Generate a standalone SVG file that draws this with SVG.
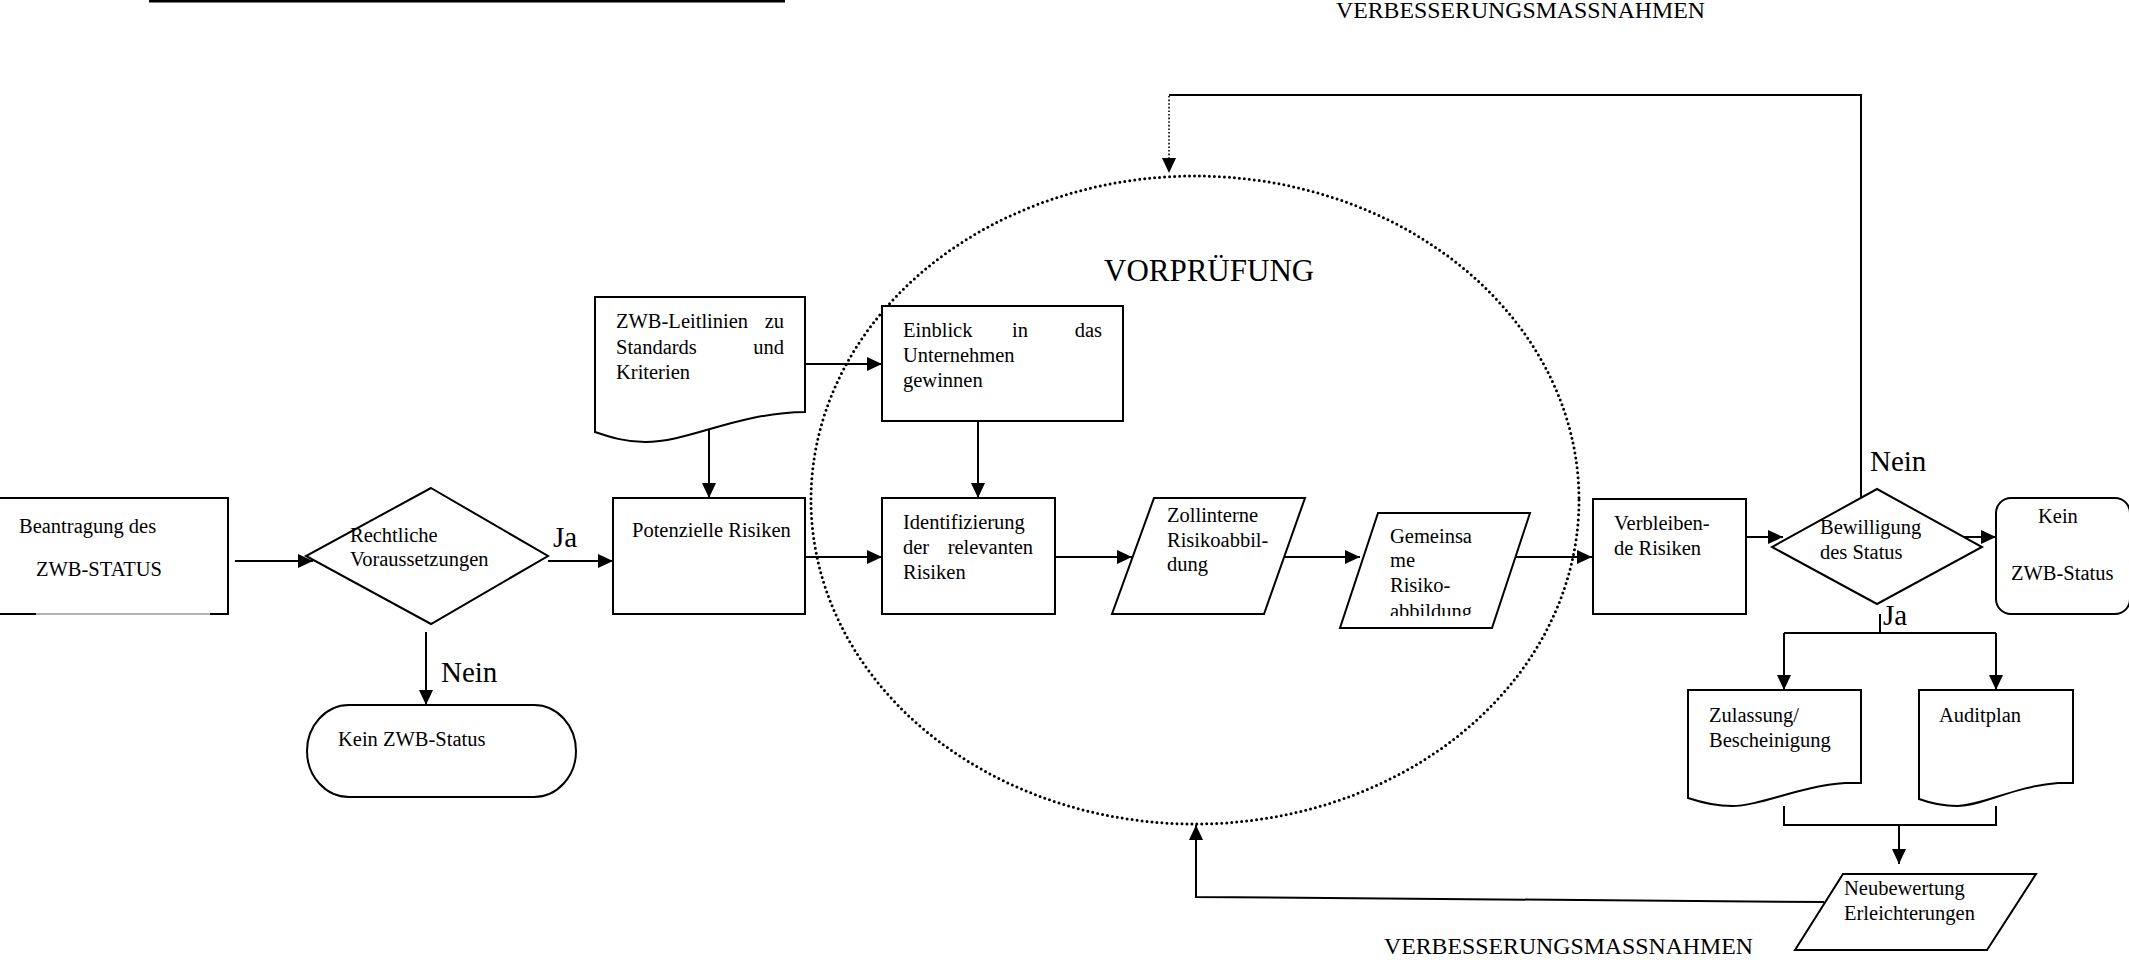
<svg xmlns="http://www.w3.org/2000/svg" width="2129" height="960" viewBox="0 0 2129 960">
<style>
.s{fill:none;stroke:#000;stroke-width:2}
.n{fill:#fff;stroke:#000;stroke-width:2}
.a{fill:none;stroke:#000;stroke-width:2;marker-end:url(#ah)}
text{font-family:"Liberation Serif","Times New Roman",serif;font-size:20.5px;fill:#000}
.lab{font-size:29px}
.big{font-size:31px}
.vm{font-size:23.8px}
</style>
<defs>
<marker id="ah" markerWidth="16" markerHeight="14" refX="15" refY="7" orient="auto" markerUnits="userSpaceOnUse"><path d="M0,0 L15,7 L0,14 z" fill="#000"/></marker>
<clipPath id="gclip"><rect x="1330" y="500" width="220" height="116"/></clipPath>
</defs>
<rect width="2129" height="960" fill="#fff"/>

<rect x="149" y="0" width="636" height="2.5" fill="#000"/>
<text class="vm" x="1336" y="18">VERBESSERUNGSMASSNAHMEN</text>
<text class="vm" x="1384" y="954">VERBESSERUNGSMASSNAHMEN</text>

<g id="vorpruefung">
<ellipse cx="1195" cy="500" rx="384" ry="324" fill="none" stroke="#000" stroke-width="3" stroke-dasharray="0 5" stroke-linecap="round"/>
<text class="big" x="1104" y="281">VORPRÜFUNG</text>
</g>

<g id="connectors">
<path class="a" d="M235,561 H313"/>
<path class="a" d="M548,561 H613"/>
<path class="a" d="M426,632 V705"/>
<path class="a" d="M709,422 V498"/>
<path class="a" d="M805,364 H882"/>
<path class="a" d="M978,421 V498"/>
<path class="a" d="M805,557 H882"/>
<path class="a" d="M1055,557 H1132"/>
<path class="a" d="M1284,557 H1360"/>
<path class="a" d="M1515,557 H1592"/>
<path class="a" d="M1746,537 H1783"/>
<path class="a" d="M1957,537 H1996"/>
<path class="s" d="M1861,497 V95 H1169"/>
<path d="M1169,96 V158" fill="none" stroke="#000" stroke-width="1.6" stroke-dasharray="1.6 2"/>
<path d="M1162,158 L1169,173 L1176,158 z" fill="#000"/>
<path class="s" d="M1880,614 V633 M1784,633 H1996"/>
<path class="a" d="M1784,633 V690"/>
<path class="a" d="M1996,633 V690"/>
<path class="s" d="M1784,806 V825 H1996 V806"/>
<path class="a" d="M1899,825 V864"/>
<path class="a" d="M1824,902 L1196,897 V825"/>
</g>

<g id="beantragung">
<path class="s" d="M0,498 H228 V614 H210 M36,614 H0"/>
<path d="M36,614 H210" stroke="#9a9a9a" stroke-width="1.5" fill="none"/>
<text x="19" y="533">Beantragung des</text>
<text x="36" y="576">ZWB-STATUS</text>
</g>

<g id="rechtliche">
<polygon class="n" points="431,488 548,556 431,624 306,556"/>
<text x="350" y="542">Rechtliche</text>
<text x="350" y="566">Voraussetzungen</text>
<text class="lab" x="553" y="547">Ja</text>
<text class="lab" x="441" y="682">Nein</text>
</g>

<g id="kein-zwb-1">
<rect class="n" x="307" y="705" width="269" height="92" rx="42" ry="46"/>
<text x="338" y="746">Kein ZWB-Status</text>
</g>

<g id="leitlinien">
<path class="n" d="M595,297 H805 V412 C735,413 690,442 645,442 C625,442 610,437 595,432 Z"/>
<text x="616" y="328">ZWB-Leitlinien</text><text x="784" y="328" text-anchor="end">zu</text>
<text x="616" y="354">Standards</text><text x="784" y="354" text-anchor="end">und</text>
<text x="616" y="379">Kriterien</text>
</g>

<g id="potenzielle">
<rect class="n" x="613" y="498" width="192" height="116"/>
<text x="632" y="537">Potenzielle Risiken</text>
</g>

<g id="einblick">
<rect class="n" x="882" y="306" width="241" height="115"/>
<text x="903" y="337">Einblick</text><text x="1012" y="337">in</text><text x="1102" y="337" text-anchor="end">das</text>
<text x="903" y="362">Unternehmen</text>
<text x="903" y="387">gewinnen</text>
</g>

<g id="identifizierung">
<rect class="n" x="882" y="498" width="173" height="116"/>
<text x="903" y="529">Identifizierung</text>
<text x="903" y="554">der</text><text x="1033" y="554" text-anchor="end">relevanten</text>
<text x="903" y="579">Risiken</text>
</g>

<g id="zollinterne">
<polygon class="n" points="1154,498 1305,498 1264,614 1112,614"/>
<text x="1167" y="522">Zollinterne</text>
<text x="1167" y="547">Risikoabbil-</text>
<text x="1167" y="571">dung</text>
</g>

<g id="gemeinsame">
<polygon class="n" points="1378,513 1530,513 1492,628 1340,628"/>
<g clip-path="url(#gclip)">
<text x="1390" y="543">Gemeinsa</text>
<text x="1390" y="567">me</text>
<text x="1390" y="592">Risiko-</text>
<text x="1390" y="618">abbildung</text>
</g>
</g>

<g id="verbleibende">
<rect class="n" x="1593" y="499" width="153" height="115"/>
<text x="1614" y="530">Verbleiben-</text>
<text x="1614" y="555">de Risiken</text>
</g>

<g id="bewilligung">
<polygon class="n" points="1877,489 1982,547 1877,604 1772,547"/>
<text x="1820" y="534">Bewilligung</text>
<text x="1820" y="559">des Status</text>
<text class="lab" x="1870" y="471">Nein</text>
<text class="lab" x="1883" y="625">Ja</text>
</g>

<g id="kein-zwb-2">
<rect class="n" x="1996" y="498" width="134" height="116" rx="15" ry="15"/>
<text x="2038" y="523">Kein</text>
<text x="2011" y="580">ZWB-Status</text>
</g>

<g id="zulassung">
<path class="n" d="M1688,690 H1861 V783 H1845 C1800,786 1760,806 1732,806 C1715,806 1700,802 1688,798 Z"/>
<text x="1709" y="722">Zulassung/</text>
<text x="1709" y="747">Bescheinigung</text>
</g>

<g id="auditplan">
<path class="n" d="M1919,690 H2073 V783 H2058 C2015,786 1982,806 1957,806 C1943,806 1930,803 1919,799 Z"/>
<text x="1939" y="722">Auditplan</text>
</g>

<g id="neubewertung">
<polygon class="n" points="1843,874 2036,874 1987,950 1795,950"/>
<text x="1844" y="895">Neubewertung</text>
<text x="1844" y="920">Erleichterungen</text>
</g>
</svg>
